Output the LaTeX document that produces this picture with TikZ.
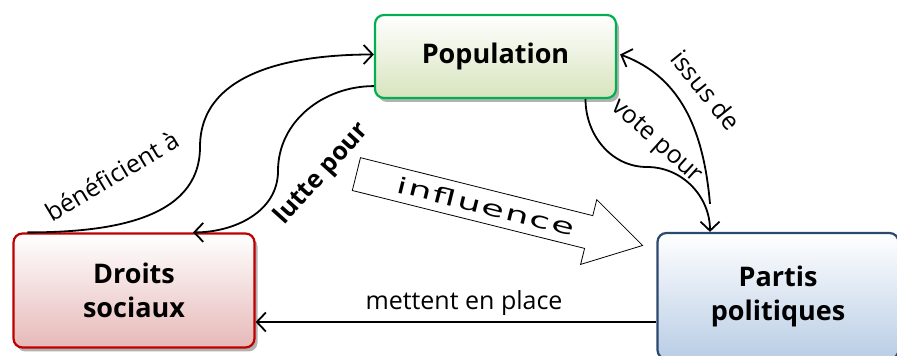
\documentclass[tikz,border=0pt]{standalone}
\usepackage{fontspec}
\setmainfont{Open Sans}
\newfontfamily\widefont[LetterSpace=5]{DejaVu Sans}
\definecolor{popgreen}{RGB}{0, 176, 80}
\definecolor{popfill}{RGB}{215, 228, 189}
\definecolor{droitred}{RGB}{192, 0, 0}
\definecolor{droitfill}{RGB}{230, 185, 184}
\definecolor{partiblue}{RGB}{44, 72, 110}
\definecolor{partifill}{RGB}{185, 205, 229}
\usepackage{tikz}
\usetikzlibrary{shapes, arrows.meta, positioning, shadows}

\tikzset{
  box/.style={rounded corners=9pt, line width=2.2pt, minimum width=241pt, align=center,
    font=\bfseries\fontsize{27}{34}\selectfont,
    drop shadow={shadow xshift=3pt, shadow yshift=-4pt, fill=black, opacity=0.3}},
  link/.style={-{Straight Barb[length=9pt, width=19pt]}, line width=1.8pt},
  lbl/.style={font=\fontsize{25}{28}\selectfont},
}

\begin{document}
\begin{tikzpicture}[x=1pt, y=1pt]
  \useasboundingbox (0, 0) rectangle (897, 356);

  % The three actors
  \node[box, draw=popgreen, top color=white, bottom color=popfill, minimum height=83pt] (pop) at (495.5, 299.5) {Population};
  \node[box, draw=droitred, top color=white, bottom color=droitfill, minimum height=114pt] (droits) at (134, 65.5) {Droits\\sociaux};
  \node[box, draw=partiblue, top color=white, bottom color=partifill, minimum height=126pt] (partis) at (778, 60) {Partis\\politiques};

  % Big hollow arrow
  \node[draw, line width=0.8pt, fill=white, shape=single arrow, rotate=-14, anchor=tail, minimum height=295pt,
        single arrow head extend=16.5pt, single arrow tip angle=62, text height=16pt, text depth=0pt,
        inner ysep=8.5pt, font=\widefont\fontsize{22}{24}\selectfont] (infl) at (356, 182) {\scalebox{1.68}[1]{influence}};

  % Links between the actors
  \draw[link] ([xshift=15pt]droits.north west) to[out=0, in=-90] (200, 209) to[out=90, in=180] ([yshift=2pt]pop.west);
  \node[lbl, rotate=31] (benef) at (112, 180) {bénéficient à};

  \draw[link] ([yshift=13pt]pop.south west) to[out=180, in=90] (278, 185) to[out=-90, in=0] ([xshift=59pt]droits.north);
  \node[lbl, font=\bfseries\fontsize{25}{28}\selectfont, rotate=48] (lutte) at (322, 182) {lutte pour};

  \draw[link] ([xshift=90pt]pop.south) to[out=-90, in=180] (647, 189) to[out=0, in=90] ([xshift=-68pt]partis.north);
  \node[lbl, rotate=-42] (vote) at (656, 214) {vote pour};

  \coordinate (issus) at ([xshift=-68pt, yshift=28pt]partis.north);
  \draw[link] (issus) to[out=95, in=-20] ([xshift=3pt, yshift=2pt]pop.east);
  \node[lbl, rotate=-51] (issuslbl) at (706, 266) {issus de};

  \draw[link] (partis.west |- 0, 34) -- (droits.east |- 0, 34) node[lbl, above=2pt, pos=0.48] (mettent) {mettent en place};
\end{tikzpicture}
\end{document}
